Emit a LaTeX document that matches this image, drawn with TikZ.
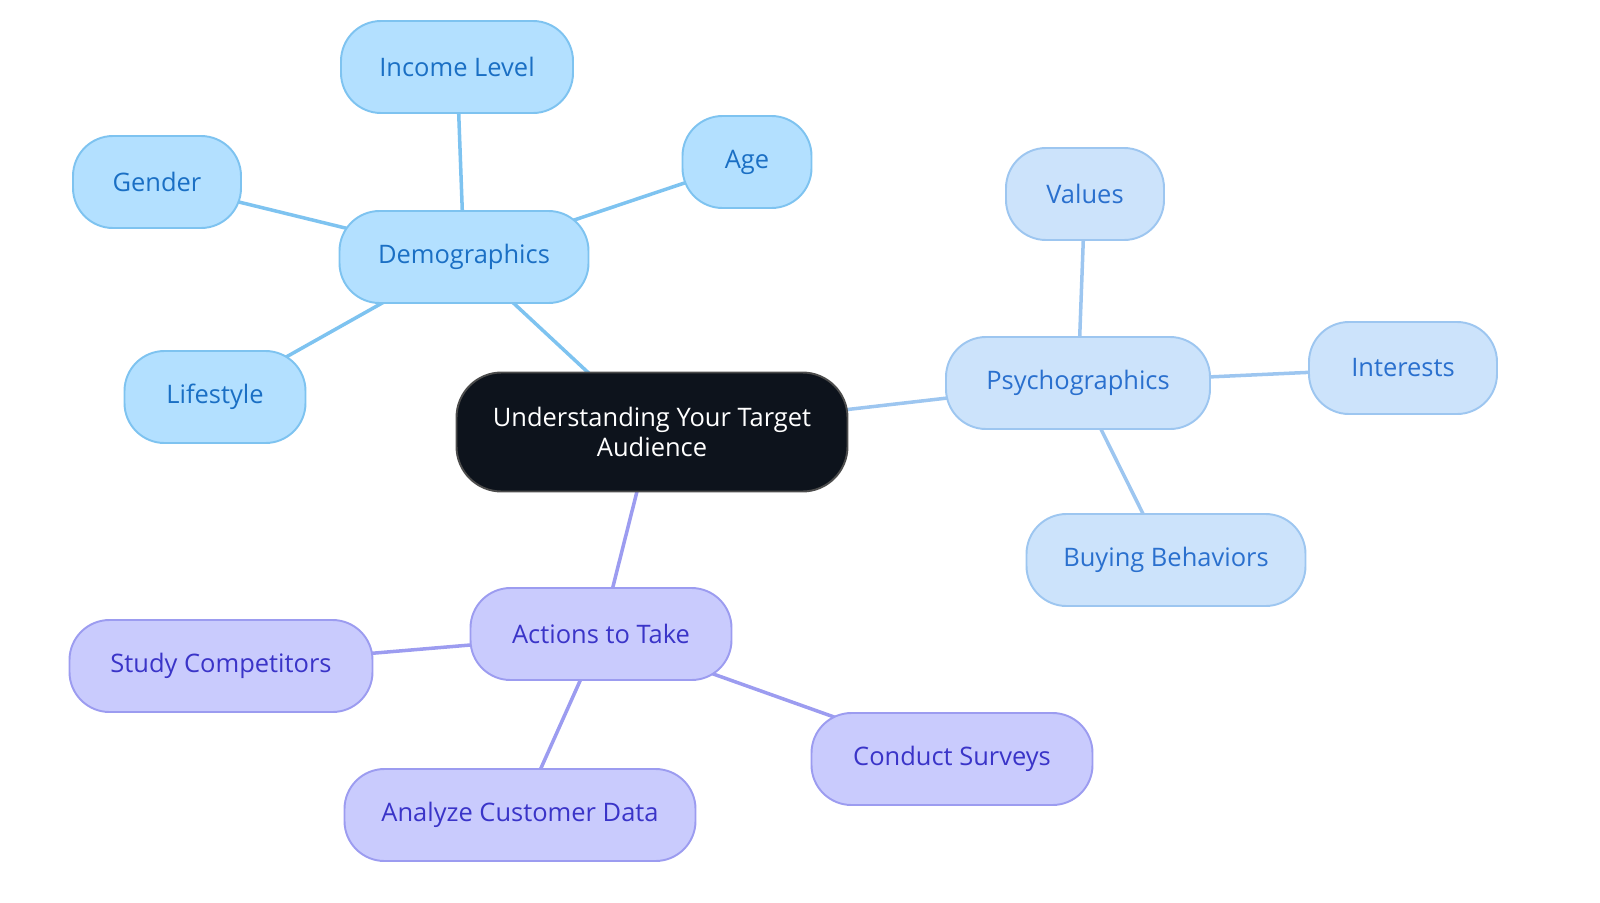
\documentclass[tikz,border=0pt]{standalone}
\usepackage{fontspec}
\setmainfont{Open Sans}
\usepackage{tikz}
\usetikzlibrary{backgrounds}
\definecolor{demofill}{HTML}{B3E0FF}
\definecolor{demoline}{HTML}{7EC3F0}
\definecolor{demotext}{HTML}{1A6FC4}
\definecolor{psyfill}{HTML}{CCE3FB}
\definecolor{psyline}{HTML}{9DC6F0}
\definecolor{psytext}{HTML}{2A70CE}
\definecolor{actfill}{HTML}{C9CBFD}
\definecolor{actline}{HTML}{9C9CF0}
\definecolor{acttext}{HTML}{3A34C8}
\definecolor{rootfill}{HTML}{0D131C}
\pgfkeys{tikz/mynode/.style={rectangle, rounded corners=40*0.02cm, line width=1.1pt,
                             minimum height=92*0.02cm, inner sep=0pt,
                             font=\fontsize{14.5}{17}\selectfont}}
\pgfkeys{tikz/demonode/.style={mynode, fill=demofill, draw=demoline, text=demotext}}
\pgfkeys{tikz/psynode/.style={mynode, fill=psyfill, draw=psyline, text=psytext}}
\pgfkeys{tikz/actnode/.style={mynode, fill=actfill, draw=actline, text=acttext}}
\pgfkeys{tikz/myedge/.style={line width=2pt}}
\begin{document}
\begin{tikzpicture}[x=0.02cm, y=-0.02cm]
            \useasboundingbox (0,0) rectangle (1600,903);
            \node (root) [mynode, fill=rootfill, draw=black!70, text=white, rounded corners=45*0.02cm,
                   minimum width=391*0.02cm, minimum height=119*0.02cm, align=center] at (652,432)
                   {Understanding Your Target\\Audience};

                    \node (demo) [demonode, minimum width=249*0.02cm] at (464,257) {Demographics};
                    \node (income) [demonode, minimum width=232*0.02cm] at (457,67) {Income Level};
                    \node (gender) [demonode, minimum width=168*0.02cm] at (157,182) {Gender};
                    \node (age) [demonode, minimum width=129*0.02cm] at (747,162) {Age};
                    \node (life) [demonode, minimum width=181*0.02cm] at (215,397) {Lifestyle};

                    \node (psy) [psynode, minimum width=264*0.02cm] at (1078,383) {Psychographics};
                    \node (values) [psynode, minimum width=158*0.02cm] at (1085,194) {Values};
                    \node (interests) [psynode, minimum width=188*0.02cm] at (1403,368) {Interests};
                    \node (buying) [psynode, minimum width=279*0.02cm] at (1166,560) {Buying Behaviors};

                    \node (act) [actnode, minimum width=261*0.02cm] at (601,634) {Actions to Take};
                    \node (study) [actnode, minimum width=303*0.02cm] at (221,666) {Study Competitors};
                    \node (analyze) [actnode, minimum width=351*0.02cm] at (520,815) {Analyze Customer Data};
                    \node (survey) [actnode, minimum width=281*0.02cm] at (952,759) {Conduct Surveys};

                    \begin{pgfonlayer}{background}
                    \draw[myedge, demoline] (root.center) -- (demo.center);
                    \draw[myedge, demoline] (demo.center) -- (income.center);
                    \draw[myedge, demoline] (demo.center) -- (gender.center);
                    \draw[myedge, demoline] (demo.center) -- (age.center);
                    \draw[myedge, demoline] (demo.center) -- (life.center);

                    \draw[myedge, psyline] (root.center) -- (psy.center);
                    \draw[myedge, psyline] (psy.center) -- (values.center);
                    \draw[myedge, psyline] (psy.center) -- (interests.center);
                    \draw[myedge, psyline] (psy.center) -- (buying.center);

                    \draw[myedge, actline] (root.center) -- (act.center);
                    \draw[myedge, actline] (act.center) -- (study.center);
                    \draw[myedge, actline] (act.center) -- (analyze.center);
                    \draw[myedge, actline] (act.center) -- (survey.center);
                    \end{pgfonlayer}
        \end{tikzpicture}
\end{document}
